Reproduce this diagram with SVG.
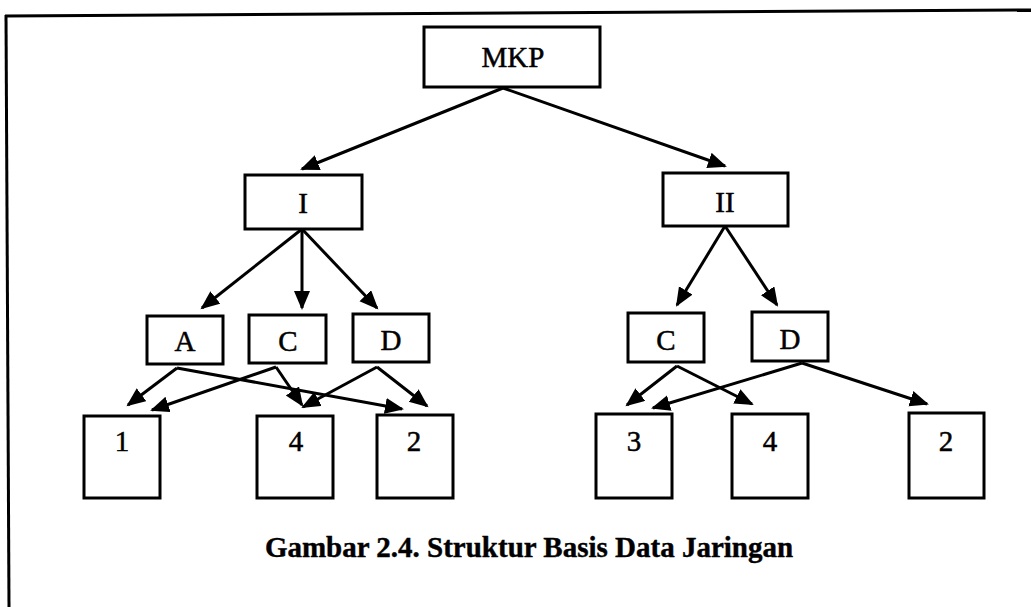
<svg xmlns="http://www.w3.org/2000/svg" width="1031" height="607" viewBox="0 0 1031 607">
<defs>
<style>
.box{fill:#fff;stroke:#000;stroke-width:3}
.lbl{font-family:"Liberation Serif","Times New Roman",serif;font-size:29px;text-anchor:middle;fill:#000;stroke:#000;stroke-width:0.5}
.cap{font-family:"Liberation Serif","Times New Roman",serif;font-size:29px;font-weight:bold;text-anchor:middle;fill:#000;stroke:#000;stroke-width:0.4}
.edge{stroke:#000;stroke-width:3;fill:none;marker-end:url(#ah)}
.frame{stroke:#000;stroke-width:3;fill:none}
</style>
<marker id="ah" markerUnits="userSpaceOnUse" markerWidth="20" markerHeight="18" refX="17" refY="8" orient="auto">
<path d="M0,0 L19,8 L0,16 z" fill="#000"/>
</marker>
</defs>
<rect width="1031" height="607" fill="#fff"/>
<g id="frame">
<line class="frame" x1="5" y1="16" x2="1031" y2="10"/>
<line class="frame" x1="6" y1="15" x2="9" y2="607"/>
</g>
<g id="connectors">
<line class="edge" x1="503" y1="88" x2="302" y2="169"/>
<line class="edge" x1="503" y1="88" x2="725" y2="166"/>
<line class="edge" x1="302" y1="229" x2="202" y2="308"/>
<line class="edge" x1="302" y1="229" x2="302" y2="308"/>
<line class="edge" x1="302" y1="229" x2="377" y2="308"/>
<line class="edge" x1="725" y1="226" x2="677" y2="305"/>
<line class="edge" x1="725" y1="226" x2="777" y2="305"/>
<line class="edge" x1="177" y1="368" x2="128" y2="405"/>
<line class="edge" x1="177" y1="368" x2="402" y2="409"/>
<line class="edge" x1="276" y1="367" x2="152" y2="410"/>
<line class="edge" x1="276" y1="367" x2="302" y2="405"/>
<line class="edge" x1="377" y1="367" x2="303" y2="407"/>
<line class="edge" x1="377" y1="367" x2="427" y2="406"/>
<line class="edge" x1="677" y1="366" x2="627" y2="405"/>
<line class="edge" x1="677" y1="366" x2="752" y2="404"/>
<line class="edge" x1="802" y1="363" x2="653" y2="408"/>
<line class="edge" x1="802" y1="363" x2="927" y2="404"/>
</g>
<g id="node-MKP"><rect class="box" x="424" y="27" width="176" height="60"/><text class="lbl" x="513" y="67" font-size="30">MKP</text></g>
<g id="node-I"><rect class="box" x="245" y="175" width="117" height="54"/><text class="lbl" x="303" y="213">I</text></g>
<g id="node-II"><rect class="box" x="663" y="173" width="125" height="53"/><text class="lbl" x="725" y="212">II</text></g>
<g id="node-A"><rect class="box" x="147" y="316" width="76" height="48"/><text class="lbl" x="185" y="351">A</text></g>
<g id="node-C1"><rect class="box" x="249" y="315" width="77" height="48"/><text class="lbl" x="288" y="351">C</text></g>
<g id="node-D1"><rect class="box" x="353" y="314" width="76" height="48"/><text class="lbl" x="391" y="350">D</text></g>
<g id="node-C2"><rect class="box" x="628" y="313" width="76" height="49"/><text class="lbl" x="666" y="350">C</text></g>
<g id="node-D2"><rect class="box" x="752" y="312" width="76" height="49"/><text class="lbl" x="790" y="349">D</text></g>
<g id="node-1"><rect class="box" x="84" y="416" width="76" height="82"/><text class="lbl" x="122" y="451">1</text></g>
<g id="node-4a"><rect class="box" x="257" y="416" width="76" height="82"/><text class="lbl" x="296" y="451">4</text></g>
<g id="node-2a"><rect class="box" x="377" y="415" width="76" height="83"/><text class="lbl" x="414" y="451">2</text></g>
<g id="node-3"><rect class="box" x="596" y="414" width="76" height="84"/><text class="lbl" x="634" y="451">3</text></g>
<g id="node-4b"><rect class="box" x="732" y="414" width="76" height="84"/><text class="lbl" x="770" y="451">4</text></g>
<g id="node-2b"><rect class="box" x="909" y="413" width="75" height="85"/><text class="lbl" x="946" y="451">2</text></g>
<text class="cap" x="529" y="557">Gambar 2.4. Struktur Basis Data Jaringan</text>
</svg>
